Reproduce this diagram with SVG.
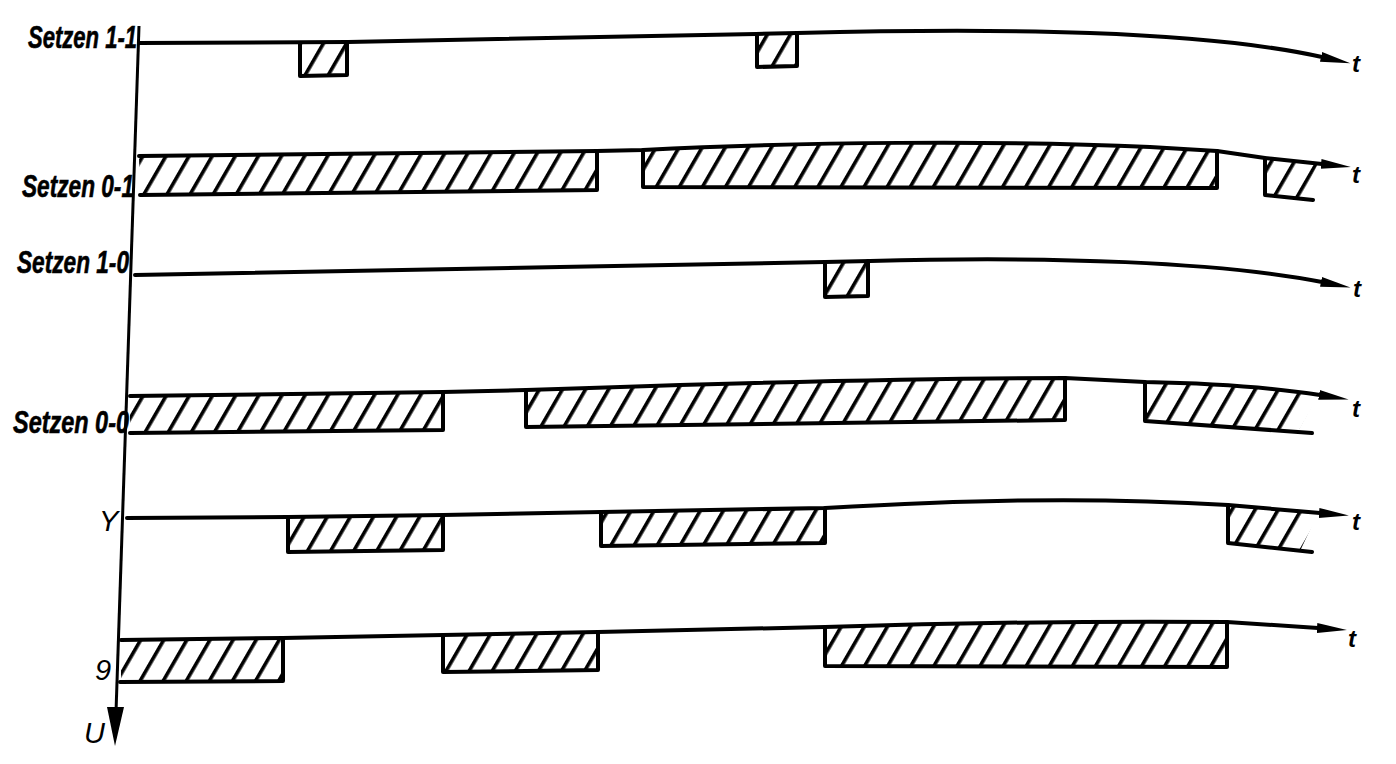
<svg xmlns="http://www.w3.org/2000/svg" width="1396" height="764" viewBox="0 0 1396 764">
<style>
.sig{fill:none;stroke:#000;stroke-width:4;stroke-linejoin:round;stroke-linecap:round}
.edge{fill:none;stroke:#000;stroke-width:4;stroke-linejoin:round;stroke-linecap:round}
.blk{fill:url(#hatch);stroke:none}
.lbl{font-family:"Liberation Sans",Arial,sans-serif;font-style:italic;font-weight:bold;font-size:31px;fill:#000;stroke:#000;stroke-width:0.6}
.var{font-family:"Liberation Sans",Arial,sans-serif;font-style:italic;font-size:29px;fill:#000}
.t{font-family:"Liberation Sans",Arial,sans-serif;font-style:italic;font-weight:bold;font-size:24px;fill:#000}
</style>
<defs>
<pattern id="hatch" patternUnits="userSpaceOnUse" width="20" height="20" patternTransform="rotate(30)">
<rect x="0" y="0" width="3.6" height="20" fill="#000"/>
</pattern>
<marker id="arr" markerUnits="userSpaceOnUse" markerWidth="32" markerHeight="14" viewBox="0 0 32 14" refX="1" refY="7" orient="auto">
<path d="M0,2 L30,7 L0,12 Z" fill="#000"/>
</marker>
</defs>
<rect x="0" y="0" width="1396" height="764" fill="#fff"/>

<g id="connectors">
<path d="M139,26 L116,712" fill="none" stroke="#000" stroke-width="3"/>
<polygon points="107,707 124,707 115,746" fill="#000"/>
<text class="var" x="84" y="743">U</text>
</g>

<g id="row-setzen-1-1">
<text class="lbl" x="137" y="48" text-anchor="end" textLength="109" lengthAdjust="spacingAndGlyphs">Setzen 1-1</text>
<path class="blk" d="M300,43 L347,42 L347,75 L300,76 Z"/>
<path class="edge" d="M300,43 L300,76 L347,75 L347,42"/>
<path class="blk" d="M757,34 L797,33 L797,66 L757,67 Z"/>
<path class="edge" d="M757,34 L757,67 L797,66 L797,33"/>
<path class="sig" d="M139,43 L348,42 L756,34 L797,33 C1000,28 1200,30 1322,57" marker-end="url(#arr)"/>
<text class="t" x="1352" y="72">t</text>
</g>

<g id="row-setzen-0-1">
<text class="lbl" x="134" y="197" text-anchor="end" textLength="112" lengthAdjust="spacingAndGlyphs">Setzen 0-1</text>
<path class="blk" d="M139,156 L597,151 L597,190 L140,195 Z"/>
<path class="edge" d="M597,151 L597,190 L140,195"/>
<path class="blk" d="M643,150 C800,142 1000,140 1150,147 L1217,151 L1217,188 L643,187 Z"/>
<path class="edge" d="M643,150 L643,187 L1217,188 L1217,151"/>
<path class="blk" d="M1265,158 L1318,164 L1300,199 L1265,195 Z"/>
<path class="edge" d="M1265,158 L1265,195 L1313,200"/>
<path class="sig" d="M139,156 L597,151 L643,150 C800,142 1000,140 1150,147 L1217,151 L1265,158 L1322,164" marker-end="url(#arr)"/>
<text class="t" x="1352" y="183">t</text>
</g>

<g id="row-setzen-1-0">
<text class="lbl" x="129" y="273" text-anchor="end" textLength="112" lengthAdjust="spacingAndGlyphs">Setzen 1-0</text>
<path class="blk" d="M825,262 L868,261 L868,296 L825,297 Z"/>
<path class="edge" d="M825,262 L825,297 L868,296 L868,261"/>
<path class="sig" d="M135,275 L560,267 L825,262 L870,261 C1050,256 1220,262 1322,282" marker-end="url(#arr)"/>
<text class="t" x="1353" y="297">t</text>
</g>

<g id="row-setzen-0-0">
<text class="lbl" x="129" y="433" text-anchor="end" textLength="116" lengthAdjust="spacingAndGlyphs">Setzen 0-0</text>
<path class="blk" d="M130,396 L443,392 L443,430 L130,433 Z"/>
<path class="edge" d="M443,392 L443,430 L130,433"/>
<path class="blk" d="M526,390 C700,384 900,378 1065,378 L1065,420 L526,427 Z"/>
<path class="edge" d="M526,390 L526,427 L1065,420 L1065,378"/>
<path class="blk" d="M1145,382 Q1250,384 1318,395 L1298,431 L1145,421 Z"/>
<path class="edge" d="M1145,382 L1145,421 L1312,433"/>
<path class="sig" d="M130,396 L443,392 L526,390 C700,384 900,378 1065,378 L1145,382 Q1250,384 1320,395" marker-end="url(#arr)"/>
<text class="t" x="1352" y="417">t</text>
</g>

<g id="row-y">
<text class="var" x="99" y="531">Y</text>
<path class="blk" d="M288,517 L443,515 L443,550 L288,552 Z"/>
<path class="edge" d="M288,517 L288,552 L443,550 L443,515"/>
<path class="blk" d="M601,512 L825,508 L825,543 L601,546 Z"/>
<path class="edge" d="M601,512 L601,546 L825,543 L825,508"/>
<path class="blk" d="M1228,505 L1318,513 L1300,551 L1228,543 Z"/>
<path class="edge" d="M1228,505 L1228,543 L1312,552"/>
<path class="sig" d="M127,518 L288,517 L443,515 L601,512 L825,508 C950,501 1080,496 1228,505 L1320,513" marker-end="url(#arr)"/>
<text class="t" x="1352" y="530">t</text>
</g>

<g id="row-9">
<text class="var" x="95" y="680">9</text>
<path class="blk" d="M121,640 L283,638 L283,681 L121,682 Z"/>
<path class="edge" d="M283,638 L283,681 L120,682"/>
<path class="blk" d="M443,635 L598,632 L598,670 L443,672 Z"/>
<path class="edge" d="M443,635 L443,672 L598,670 L598,632"/>
<path class="blk" d="M825,627 C950,623 1100,621 1227,622 L1227,667 L825,666 Z"/>
<path class="edge" d="M825,627 L825,666 L1227,667 L1227,622"/>
<path class="sig" d="M121,640 L283,638 L443,635 L598,632 L825,627 C950,623 1100,621 1227,622 L1318,628" marker-end="url(#arr)"/>
<text class="t" x="1348" y="647">t</text>
</g>
</svg>
